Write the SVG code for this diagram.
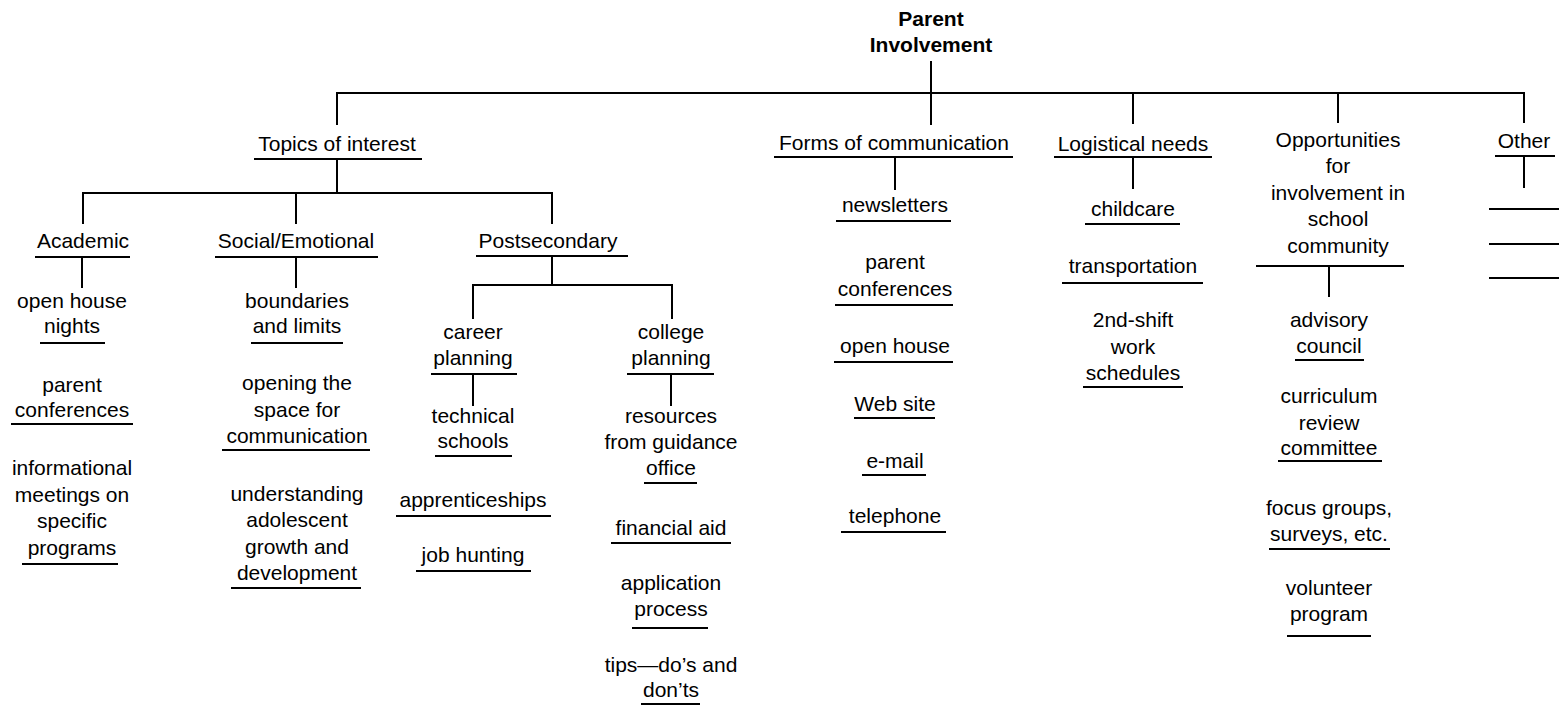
<svg xmlns="http://www.w3.org/2000/svg" width="1560" height="707" viewBox="0 0 1560 707">
<style>
text{font-family:"Liberation Sans",Arial,Helvetica,sans-serif;font-size:21px;fill:#000;text-anchor:middle}
.b{font-weight:bold}
line{stroke:#000;stroke-width:2;stroke-linecap:square}
</style>
<rect width="1560" height="707" fill="#fff"/>
<g id="connectors">
<line x1="931" y1="62" x2="931" y2="124"/>
<line x1="337" y1="93" x2="1524" y2="93"/>
<line x1="337" y1="93" x2="337" y2="124"/>
<line x1="1133" y1="93" x2="1133" y2="123"/>
<line x1="1338" y1="93" x2="1338" y2="122"/>
<line x1="1524" y1="93" x2="1524" y2="122"/>
<line x1="337" y1="160" x2="337" y2="193"/>
<line x1="83" y1="193" x2="552" y2="193"/>
<line x1="83" y1="193" x2="83" y2="223"/>
<line x1="296" y1="193" x2="296" y2="223"/>
<line x1="552" y1="193" x2="552" y2="223"/>
<line x1="82" y1="257" x2="82" y2="287"/>
<line x1="296" y1="257" x2="296" y2="287"/>
<line x1="552" y1="256" x2="552" y2="285"/>
<line x1="473" y1="285" x2="672" y2="285"/>
<line x1="473" y1="285" x2="473" y2="318"/>
<line x1="672" y1="285" x2="672" y2="318"/>
<line x1="473" y1="374" x2="473" y2="405"/>
<line x1="671" y1="374" x2="671" y2="405"/>
<line x1="895" y1="157" x2="895" y2="189"/>
<line x1="1133" y1="157" x2="1133" y2="188"/>
<line x1="1329" y1="266" x2="1329" y2="296"/>
<line x1="1524" y1="156" x2="1524" y2="187"/>
</g>
<g id="root"><text class="b" x="931" y="26">Parent</text><text class="b" x="931" y="52">Involvement</text></g>
<g id="topics"><text x="337" y="151">Topics of interest</text><line x1="255" y1="159" x2="421" y2="159"/></g>
<g id="forms"><text x="894" y="150">Forms of communication</text><line x1="775" y1="157" x2="1012" y2="157"/></g>
<g id="logistical"><text x="1133" y="151">Logistical needs</text><line x1="1055" y1="157" x2="1211" y2="157"/></g>
<g id="opportunities"><text x="1338" y="147">Opportunities</text><text x="1338" y="173">for</text><text x="1338" y="200">involvement in</text><text x="1338" y="226">school</text><text x="1338" y="253">community</text><line x1="1257" y1="266" x2="1403" y2="266"/></g>
<g id="other"><text x="1524" y="148">Other</text><line x1="1496" y1="156" x2="1554" y2="156"/><line x1="1490" y1="209" x2="1558" y2="209"/><line x1="1490" y1="244" x2="1558" y2="244"/><line x1="1490" y1="278" x2="1558" y2="278"/></g>
<g id="academic"><text x="83" y="248">Academic</text><line x1="36" y1="257" x2="129" y2="257"/></g>
<g id="social"><text x="296" y="248">Social/Emotional</text><line x1="216" y1="257" x2="377" y2="257"/></g>
<g id="postsecondary"><text x="548" y="248">Postsecondary</text><line x1="477" y1="256" x2="627" y2="256"/></g>
<g id="open-house-nights"><text x="72" y="308">open house</text><text x="72" y="333">nights</text><line x1="41" y1="343" x2="104" y2="343"/></g>
<g id="acad-parent-conferences"><text x="72" y="392">parent</text><text x="72" y="417">conferences</text><line x1="12" y1="424" x2="132" y2="424"/></g>
<g id="informational-meetings"><text x="72" y="475">informational</text><text x="72" y="502">meetings on</text><text x="72" y="528">specific</text><text x="72" y="555">programs</text><line x1="23" y1="564" x2="117" y2="564"/></g>
<g id="boundaries"><text x="297" y="308">boundaries</text><text x="297" y="333">and limits</text><line x1="252" y1="343" x2="342" y2="343"/></g>
<g id="opening-space"><text x="297" y="390">opening the</text><text x="297" y="417">space for</text><text x="297" y="443">communication</text><line x1="223" y1="450" x2="369" y2="450"/></g>
<g id="understanding"><text x="297" y="501">understanding</text><text x="297" y="527">adolescent</text><text x="297" y="554">growth and</text><text x="297" y="580">development</text><line x1="232" y1="588" x2="360" y2="588"/></g>
<g id="career-planning"><text x="473" y="339">career</text><text x="473" y="365">planning</text><line x1="432" y1="374" x2="516" y2="374"/></g>
<g id="college-planning"><text x="671" y="339">college</text><text x="671" y="365">planning</text><line x1="628" y1="374" x2="713" y2="374"/></g>
<g id="technical-schools"><text x="473" y="423">technical</text><text x="473" y="448">schools</text><line x1="436" y1="456" x2="511" y2="456"/></g>
<g id="apprenticeships"><text x="473" y="507">apprenticeships</text><line x1="397" y1="516" x2="550" y2="516"/></g>
<g id="job-hunting"><text x="473" y="562">job hunting</text><line x1="417" y1="571" x2="530" y2="571"/></g>
<g id="resources-guidance"><text x="671" y="423">resources</text><text x="671" y="449">from guidance</text><text x="671" y="475">office</text><line x1="645" y1="483" x2="696" y2="483"/></g>
<g id="financial-aid"><text x="671" y="535">financial aid</text><line x1="612" y1="543" x2="730" y2="543"/></g>
<g id="application-process"><text x="671" y="590">application</text><text x="671" y="616">process</text><line x1="633" y1="628" x2="707" y2="628"/></g>
<g id="tips"><text x="671" y="672">tips—do’s and</text><text x="671" y="697">don’ts</text><line x1="642" y1="704" x2="699" y2="704"/></g>
<g id="newsletters"><text x="895" y="212">newsletters</text><line x1="837" y1="221" x2="950" y2="221"/></g>
<g id="forms-parent-conferences"><text x="895" y="269">parent</text><text x="895" y="296">conferences</text><line x1="836" y1="305" x2="952" y2="305"/></g>
<g id="open-house"><text x="895" y="353">open house</text><line x1="835" y1="362" x2="952" y2="362"/></g>
<g id="web-site"><text x="895" y="411">Web site</text><line x1="855" y1="418" x2="934" y2="418"/></g>
<g id="e-mail"><text x="895" y="468">e-mail</text><line x1="863" y1="475" x2="925" y2="475"/></g>
<g id="telephone"><text x="895" y="523">telephone</text><line x1="842" y1="532" x2="945" y2="532"/></g>
<g id="childcare"><text x="1133" y="216">childcare</text><line x1="1086" y1="224" x2="1179" y2="224"/></g>
<g id="transportation"><text x="1133" y="273">transportation</text><line x1="1063" y1="283" x2="1202" y2="283"/></g>
<g id="second-shift"><text x="1133" y="327">2nd-shift</text><text x="1133" y="354">work</text><text x="1133" y="380">schedules</text><line x1="1084" y1="387" x2="1182" y2="387"/></g>
<g id="advisory-council"><text x="1329" y="327">advisory</text><text x="1329" y="353">council</text><line x1="1296" y1="360" x2="1363" y2="360"/></g>
<g id="curriculum-review"><text x="1329" y="403">curriculum</text><text x="1329" y="430">review</text><text x="1329" y="455">committee</text><line x1="1279" y1="461" x2="1381" y2="461"/></g>
<g id="focus-groups"><text x="1329" y="515">focus groups,</text><text x="1329" y="541">surveys, etc.</text><line x1="1270" y1="549" x2="1389" y2="549"/></g>
<g id="volunteer-program"><text x="1329" y="595">volunteer</text><text x="1329" y="621">program</text><line x1="1288" y1="636" x2="1370" y2="636"/></g>
</svg>
